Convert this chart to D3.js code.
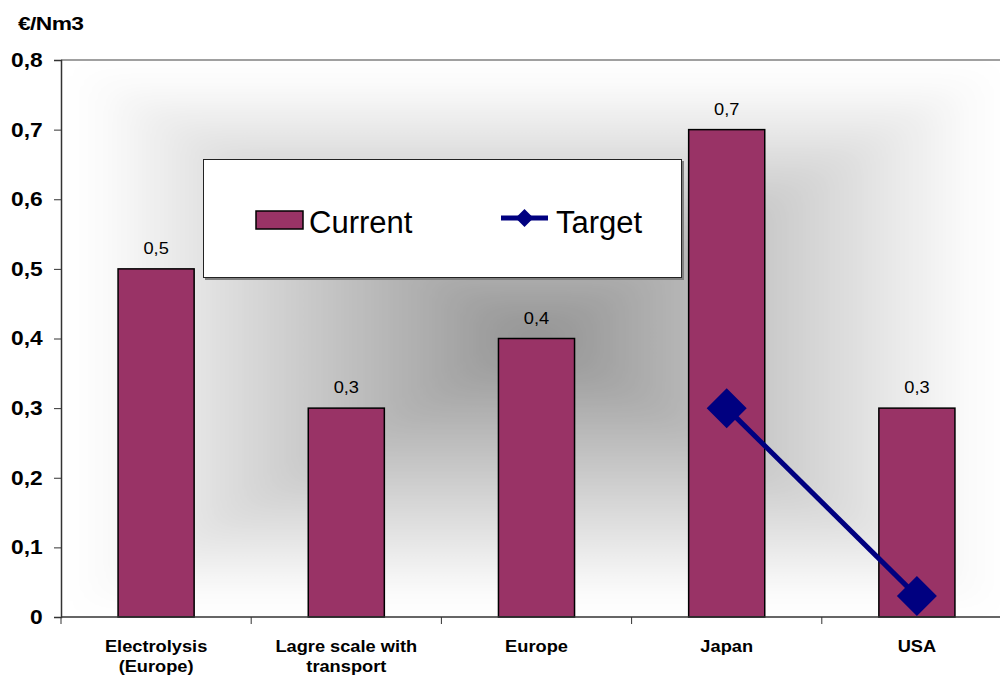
<!DOCTYPE html>
<html><head><meta charset="utf-8">
<script src="https://cdn.jsdelivr.net/npm/d3@7"></script>
<style>body{margin:0;background:#fff}svg{display:block;font-family:"Liberation Sans",Arial,sans-serif}</style>
</head><body><svg id="c" width="1000" height="680"></svg>
<script>
const categories = [["Electrolysis","(Europe)"],["Lagre scale with","transport"],["Europe"],["Japan"],["USA"]];
const currentValues = [0.5, 0.3, 0.4, 0.7, 0.3];
const targetValues = [null, null, null, 0.3, 0.03];
const yTicks = [0,0.1,0.2,0.3,0.4,0.5,0.6,0.7,0.8];
const seriesNames = ["Current","Target"];
const unitLabel = "€/Nm3";

const SX = 1.14; // horizontal text stretch of the original
const svg = d3.select("#c");
const L = 61, R = 1012, T = 60, B = 617;
const x = d3.scaleBand().domain(d3.range(categories.length)).range([L,R]).paddingInner(0.6).paddingOuter(0.3);
const xb = d3.scaleBand().domain(d3.range(categories.length)).range([L,R]);
const y = d3.scaleLinear().domain([0,0.8]).range([B,T]);
const loc = d3.formatLocale({decimal:",",thousands:".",grouping:[3],currency:["","€"]});
const fmt = v => v === 0 ? "0" : loc.format(".1f")(v);

// rectangular "from center" gradient background
const defs = svg.append("defs");
defs.append("clipPath").attr("id","plotClip").append("rect").attr("x",L).attr("y",T).attr("width",R-L).attr("height",B-T);
defs.append("filter").attr("id","soft").attr("x",-0.1).attr("y",-0.1).attr("width",1.2).attr("height",1.2)
  .append("feGaussianBlur").attr("stdDeviation",14);
const cx = (L+R)/2, cy = (T+B)/2;
const sides = [
  {id:"gT", pts:[[L,T],[R,T],[cx,cy]], x1:cx,y1:T,x2:cx,y2:cy},
  {id:"gB", pts:[[L,B],[R,B],[cx,cy]], x1:cx,y1:B,x2:cx,y2:cy},
  {id:"gL", pts:[[L,T],[L,B],[cx,cy]], x1:L,y1:cy,x2:cx,y2:cy},
  {id:"gR", pts:[[R,T],[R,B],[cx,cy]], x1:R,y1:cy,x2:cx,y2:cy}
];
const bgc = svg.append("g").attr("clip-path","url(#plotClip)");
bgc.append("rect").attr("x",L).attr("y",T).attr("width",R-L).attr("height",B-T).attr("fill","#fff");
const bg = bgc.append("g").attr("filter","url(#soft)");
bg.append("rect").attr("x",L-40).attr("y",T-40).attr("width",R-L+80).attr("height",B-T+80).attr("fill","#fff");
sides.forEach(s=>{
  const g = defs.append("linearGradient").attr("id",s.id).attr("gradientUnits","userSpaceOnUse")
    .attr("x1",s.x1).attr("y1",s.y1).attr("x2",s.x2).attr("y2",s.y2);
  g.append("stop").attr("offset",0).attr("stop-color","#ffffff");
  g.append("stop").attr("offset",0.08).attr("stop-color","#fcfcfc");
  g.append("stop").attr("offset",1).attr("stop-color","#929292");
  bg.append("path").attr("d","M"+s.pts.map(p=>p.join(",")).join("L")+"Z")
    .attr("fill","url(#"+s.id+")").attr("stroke","url(#"+s.id+")").attr("stroke-width",0.6);
});

// top border
svg.append("line").attr("x1",L).attr("x2",R).attr("y1",T).attr("y2",T).attr("stroke","#808080").attr("stroke-width",1.5);

// bars
svg.append("g").selectAll("rect").data(currentValues).join("rect")
  .attr("x",(d,i)=>x(i)).attr("width",x.bandwidth())
  .attr("y",d=>y(d)).attr("height",d=>y(0)-y(d))
  .attr("fill","#993366").attr("stroke","#000").attr("stroke-width",1.5);

// value labels
svg.append("g").selectAll("text").data(currentValues).join("text")
  .attr("transform",(d,i)=>`translate(${x(i)+x.bandwidth()/2},${y(d)-15}) scale(${SX},1)`)
  .attr("text-anchor","middle").attr("font-size",16).attr("fill","#000").text(d=>fmt(d));

// y axis
const yAxis = d3.axisLeft(y).tickValues(yTicks).tickFormat(fmt).tickSize(7).tickPadding(9);
const ya = svg.append("g").attr("transform",`translate(${L},0)`).call(yAxis);
ya.select(".domain").attr("stroke","#333").attr("stroke-width",1.5);
ya.selectAll(".tick line").attr("stroke","#333");
ya.selectAll(".tick text").attr("font-size",20).attr("font-weight","bold").attr("fill","#000")
  .attr("font-family","Liberation Sans, Arial, sans-serif").attr("transform",`scale(${SX},1)`);

// x axis
const xa = svg.append("g").attr("transform",`translate(0,${B})`);
xa.append("line").attr("x1",L).attr("x2",R).attr("stroke","#333").attr("stroke-width",1.5);
xa.selectAll("line.t").data(d3.range(categories.length+1)).join("line").attr("class","t")
  .attr("x1",i=>L+i*xb.bandwidth()).attr("x2",i=>L+i*xb.bandwidth()).attr("y1",0).attr("y2",7).attr("stroke","#333");
const xl = svg.append("g").selectAll("text").data(categories).join("text")
  .attr("transform",(d,i)=>`translate(${xb(i)+xb.bandwidth()/2},652) scale(${SX},1)`).attr("text-anchor","middle")
  .attr("font-size",16).attr("font-weight","bold").attr("fill","#000");
xl.each(function(d){
  const t = d3.select(this);
  d.forEach((line,k)=>t.append("tspan").attr("x",0).attr("dy",k===0?0:20).text(line));
});

// target line
const line = d3.line().defined(d=>d.v!==null).x(d=>x(d.i)+x.bandwidth()/2).y(d=>y(d.v));
const tdata = targetValues.map((v,i)=>({i,v}));
svg.append("path").datum(tdata).attr("d",line).attr("fill","none").attr("stroke","#000080").attr("stroke-width",5);
const dm = 20;
svg.append("g").selectAll("path").data(tdata.filter(d=>d.v!==null)).join("path")
  .attr("transform",d=>`translate(${x(d.i)+x.bandwidth()/2},${y(d.v)})`)
  .attr("d",`M0,${-dm}L${dm},0L0,${dm}L${-dm},0Z`).attr("fill","#000080");

// unit label
svg.append("text").attr("transform",`translate(18,30) scale(1.2,1)`).attr("font-size",19).attr("font-weight","bold")
  .attr("letter-spacing","-0.5").attr("fill","#000").text(unitLabel);

// legend
const lg = svg.append("g");
lg.append("rect").attr("x",205).attr("y",161).attr("width",479).attr("height",119).attr("fill","#808080");
lg.append("rect").attr("x",203.5).attr("y",159.5).attr("width",478).attr("height",118).attr("fill","#fff").attr("stroke","#222").attr("stroke-width",1);
lg.append("rect").attr("x",256).attr("y",211).attr("width",47).attr("height",18).attr("fill","#993366").attr("stroke","#000").attr("stroke-width",1.5);
lg.append("text").attr("x",309).attr("y",233).attr("font-size",31).attr("fill","#000").text(seriesNames[0]);
lg.append("line").attr("x1",501).attr("x2",548).attr("y1",218).attr("y2",218).attr("stroke","#000080").attr("stroke-width",5);
lg.append("path").attr("transform","translate(524.5,218)").attr("d","M0,-9L9,0L0,9L-9,0Z").attr("fill","#000080");
lg.append("text").attr("x",556).attr("y",233).attr("font-size",31).attr("fill","#000").text(seriesNames[1]);
</script></body></html>
